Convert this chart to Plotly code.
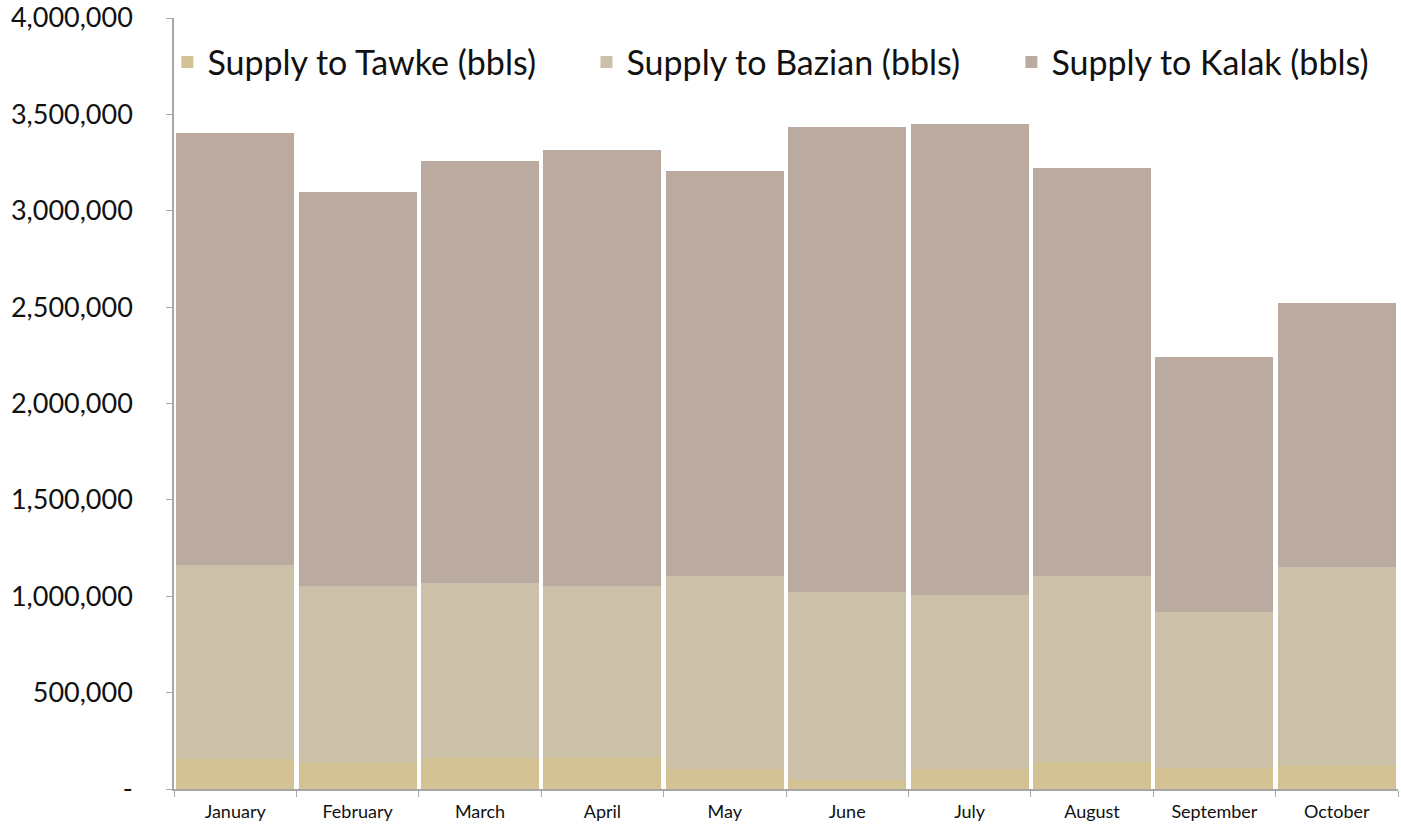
import plotly.graph_objects as go

months = ["January", "February", "March", "April", "May", "June", "July",
          "August", "September", "October"]
tawke = [156000, 135000, 161000, 166000, 104000, 47000, 104000, 140000, 109000, 125000]
bazian = [1007000, 919000, 908000, 888000, 1002000, 975000, 903000, 966000, 810000, 1027000]
kalak = [2242000, 2045000, 2189000, 2261000, 2100000, 2412000, 2443000, 2116000, 1322000, 1369000]

y_tickvals = [0, 500000, 1000000, 1500000, 2000000, 2500000, 3000000, 3500000, 4000000]
y_ticktext = ["-", "500,000", "1,000,000", "1,500,000", "2,000,000", "2,500,000",
              "3,000,000", "3,500,000", "4,000,000"]

series = [
    ("Supply to Tawke (bbls)", tawke, "#D3C293", "legend", 0.1195),
    ("Supply to Bazian (bbls)", bazian, "#CBC1A9", "legend2", 0.4186),
    ("Supply to Kalak (bbls)", kalak, "#BBAAA0", "legend3", 0.7219),
]

FONT = "Lato"
fig = go.Figure()
legends = {}
for name, vals, col, leg, lx in series:
    fig.add_trace(go.Bar(x=months, y=vals, name=name, legend=leg,
                         marker=dict(color=col, line=dict(width=0))))
    legends[leg] = dict(orientation="h", xref="container", x=lx, y=0.98,
                        xanchor="left", yanchor="top",
                        font=dict(size=34, family=FONT, color="#111111"),
                        bgcolor="rgba(0,0,0,0)", itemwidth=30)

fig.update_layout(
    barmode="stack",
    bargap=0.035,
    width=1401, height=825,
    margin=dict(l=174, r=3, t=18, b=36, autoexpand=False),
    paper_bgcolor="white", plot_bgcolor="white",
    font=dict(family=FONT, color="#111111"),
    showlegend=True,
    **legends,
)
fig.update_xaxes(
    showline=True, linecolor="#A6A6A6", linewidth=1.5,
    tickson="boundaries", ticks="outside", ticklen=6, tickcolor="#A6A6A6",
    showgrid=False, automargin=False,
    tickfont=dict(size=18, family=FONT, color="#111111"),
    ticklabelstandoff=6,
)
fig.update_yaxes(
    range=[0, 4000000], tickvals=y_tickvals, ticktext=y_ticktext,
    showline=True, linecolor="#A6A6A6", linewidth=1.5,
    ticks="outside", ticklen=6, tickcolor="#A6A6A6",
    showgrid=False, zeroline=False, automargin=False,
    tickfont=dict(size=27, family=FONT, color="#111111"),
    ticklabelstandoff=28, ticklabeloverflow="allow",
)
fig.write_html("out.html",
               config={"displayModeBar": False},
               post_script="document.body.style.margin='0';document.body.style.overflow='hidden';")
